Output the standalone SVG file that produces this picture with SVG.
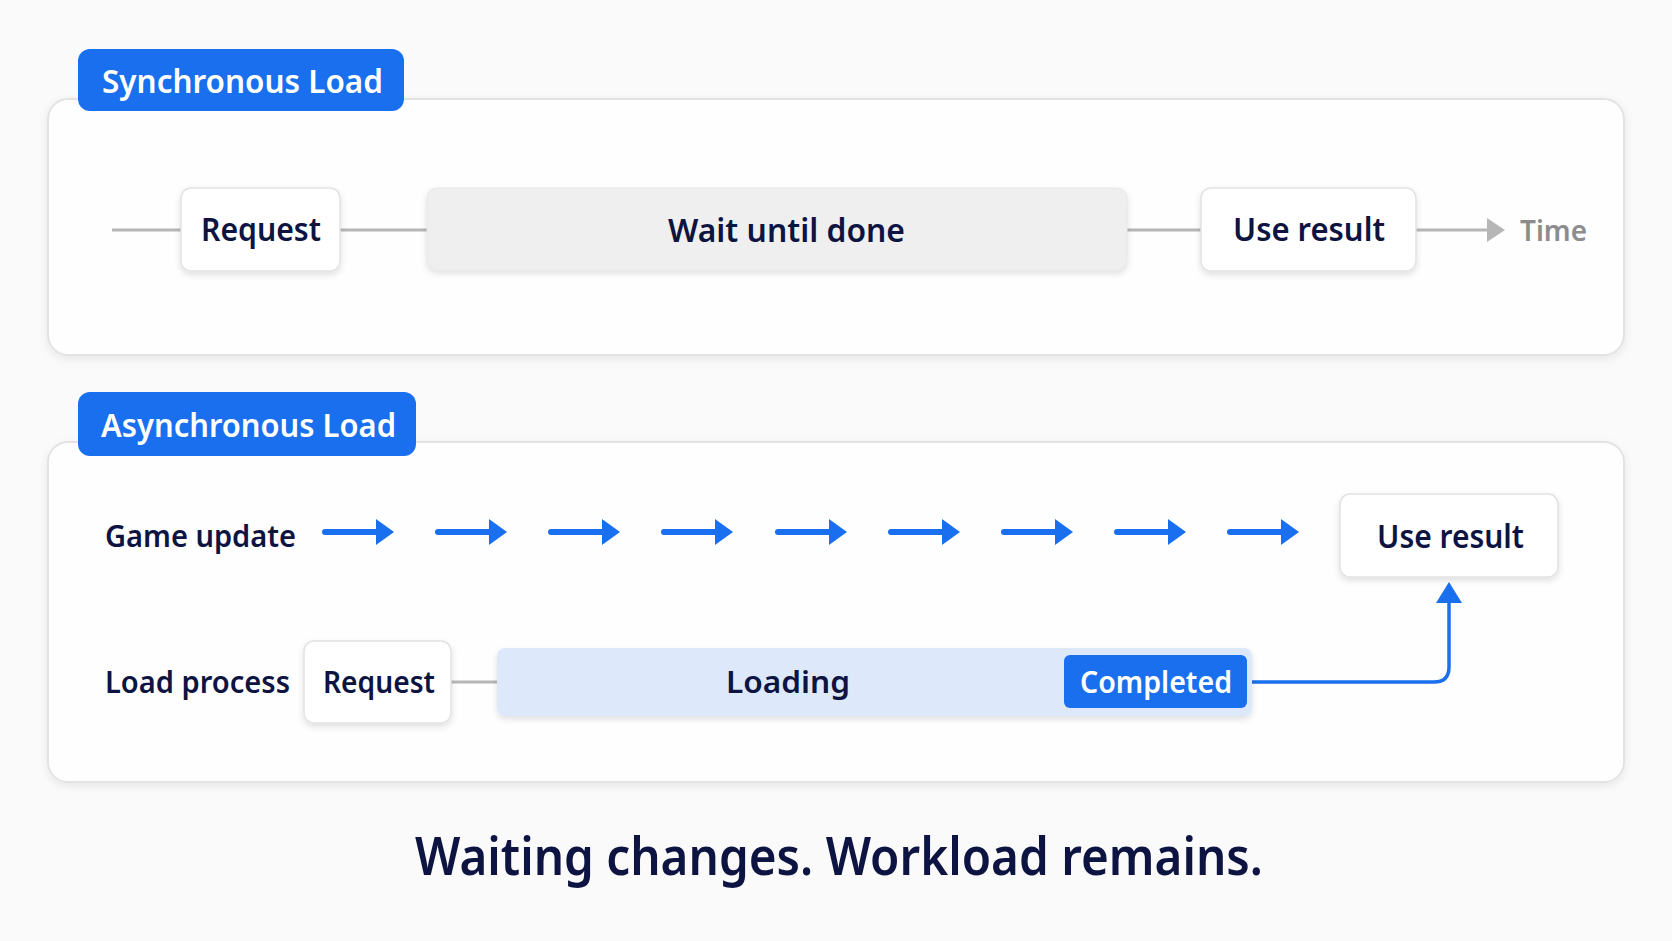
<svg xmlns="http://www.w3.org/2000/svg" width="1672" height="941" viewBox="0 0 1672 941">
<defs>
<style>
text{font-family:"Noto Sans","Open Sans","Liberation Sans",sans-serif;font-weight:600;}
.dark{fill:#0e1442;}
.white{fill:#ffffff;}
.panel{fill:#fefefe;stroke:#e3e3e3;stroke-width:2;}
.tag{fill:#1a6fee;}
.box{fill:#ffffff;stroke:#e2e2e2;stroke-width:1.5;}
.gline{stroke:#b6b6b6;stroke-width:3;fill:none;}
.bline{stroke:#1a6fee;fill:none;stroke-linecap:round;}
</style>
<filter id="sh" x="-10%" y="-20%" width="120%" height="150%">
<feDropShadow dx="0" dy="3" stdDeviation="3" flood-color="#000" flood-opacity="0.12"/>
</filter>
<filter id="psh" x="-5%" y="-10%" width="110%" height="125%">
<feDropShadow dx="0" dy="3" stdDeviation="4" flood-color="#000" flood-opacity="0.08"/>
</filter>
<marker id="grayHead" viewBox="0 0 10 10" refX="9" refY="5" markerWidth="5" markerHeight="7.5" markerUnits="strokeWidth" orient="auto">
<path d="M0,0 L10,5 L0,10 z" fill="#b6b6b6"/>
</marker>
</defs>
<rect width="1672" height="941" fill="#fafafa"/>

<g id="panel-sync">
<rect class="panel" x="48" y="99" width="1576" height="256" rx="20" filter="url(#psh)"/>
</g>
<g id="panel-async">
<rect class="panel" x="48" y="442" width="1576" height="340" rx="20" filter="url(#psh)"/>
</g>

<g id="tag-sync">
<rect class="tag" x="78" y="49" width="326" height="62" rx="12"/>
<text class="white" x="102" y="93" font-size="32" textLength="281" lengthAdjust="spacingAndGlyphs">Synchronous Load</text>
</g>
<g id="tag-async">
<rect class="tag" x="78" y="392" width="338" height="64" rx="12"/>
<text class="white" x="101" y="437" font-size="32" textLength="295" lengthAdjust="spacingAndGlyphs">Asynchronous Load</text>
</g>

<g id="connectors">
<line class="gline" x1="112" y1="230" x2="181" y2="230"/>
<line class="gline" x1="340" y1="230" x2="427" y2="230"/>
<line class="gline" x1="1127" y1="230" x2="1201" y2="230"/>
<line class="gline" x1="1416" y1="230" x2="1489" y2="230"/>
<path d="M1487,218 L1505,230 L1487,242 z" fill="#b6b6b6"/>
<line class="gline" x1="451" y1="682" x2="497" y2="682"/>
<g id="game-arrows" fill="#1a6fee">
<path class="bline" stroke-width="6" d="M325,532 H378"/>
<path d="M376,519 L394,532 L376,545 z"/>
<path class="bline" stroke-width="6" d="M438,532 H491"/>
<path d="M489,519 L507,532 L489,545 z"/>
<path class="bline" stroke-width="6" d="M551,532 H604"/>
<path d="M602,519 L620,532 L602,545 z"/>
<path class="bline" stroke-width="6" d="M664,532 H717"/>
<path d="M715,519 L733,532 L715,545 z"/>
<path class="bline" stroke-width="6" d="M778,532 H831"/>
<path d="M829,519 L847,532 L829,545 z"/>
<path class="bline" stroke-width="6" d="M891,532 H944"/>
<path d="M942,519 L960,532 L942,545 z"/>
<path class="bline" stroke-width="6" d="M1004,532 H1057"/>
<path d="M1055,519 L1073,532 L1055,545 z"/>
<path class="bline" stroke-width="6" d="M1117,532 H1170"/>
<path d="M1168,519 L1186,532 L1168,545 z"/>
<path class="bline" stroke-width="6" d="M1230,532 H1283"/>
<path d="M1281,519 L1299,532 L1281,545 z"/>
</g>
<path class="bline" stroke-width="3.5" d="M1249,682 H1434 Q1449,682 1449,667 V600"/>
<path d="M1436,603 L1449,582 L1462,603 z" fill="#1a6fee"/>
</g>

<g id="node-request-sync">
<rect class="box" x="181" y="188" width="159" height="83" rx="10" filter="url(#sh)"/>
<text class="dark" x="201" y="241" font-size="32" textLength="120" lengthAdjust="spacingAndGlyphs">Request</text>
</g>
<g id="node-wait">
<rect x="427" y="188" width="700" height="82" rx="10" fill="#efefef" stroke="#e6e6e6" stroke-width="1" filter="url(#sh)"/>
<text class="dark" x="668" y="242" font-size="32" textLength="237" lengthAdjust="spacingAndGlyphs">Wait until done</text>
</g>
<g id="node-use-sync">
<rect class="box" x="1201" y="188" width="215" height="83" rx="10" filter="url(#sh)"/>
<text class="dark" x="1233" y="241" font-size="32" textLength="152" lengthAdjust="spacingAndGlyphs">Use result</text>
</g>
<g id="label-time">
<text x="1520" y="241" font-size="29" fill="#8c8c8c" textLength="67" lengthAdjust="spacingAndGlyphs">Time</text>
</g>

<g id="label-game">
<text class="dark" x="105" y="547" font-size="31" textLength="191" lengthAdjust="spacingAndGlyphs">Game update</text>
</g>
<g id="label-load">
<text class="dark" x="105" y="693" font-size="31" textLength="185" lengthAdjust="spacingAndGlyphs">Load process</text>
</g>
<g id="node-use-async">
<rect class="box" x="1340" y="494" width="218" height="83" rx="10" filter="url(#sh)"/>
<text class="dark" x="1377" y="548" font-size="32" textLength="147" lengthAdjust="spacingAndGlyphs">Use result</text>
</g>
<g id="node-request-async">
<rect class="box" x="304" y="641" width="147" height="82" rx="10" filter="url(#sh)"/>
<text class="dark" x="323" y="693" font-size="31" textLength="112" lengthAdjust="spacingAndGlyphs">Request</text>
</g>
<g id="node-loading">
<rect x="497" y="648" width="755" height="68" rx="8" fill="#dde8fb" filter="url(#sh)"/>
<text class="dark" x="726" y="693" font-size="31" textLength="124" lengthAdjust="spacingAndGlyphs">Loading</text>
</g>
<g id="node-completed">
<rect class="tag" x="1064" y="655" width="183" height="53" rx="6"/>
<text class="white" x="1080" y="693" font-size="31" textLength="152" lengthAdjust="spacingAndGlyphs">Completed</text>
</g>

<g id="tagline">
<text class="dark" x="415" y="875" font-size="52" font-weight="700" textLength="848" lengthAdjust="spacingAndGlyphs">Waiting changes. Workload remains.</text>
</g>
</svg>
